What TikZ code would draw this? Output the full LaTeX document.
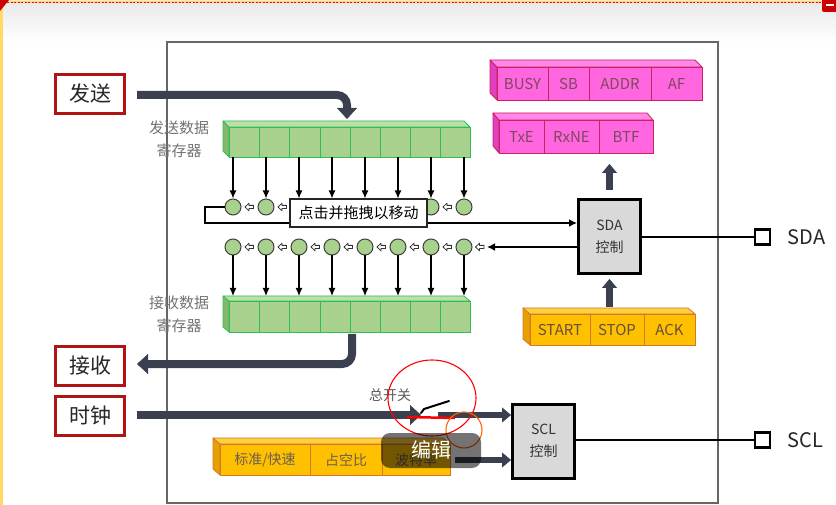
\documentclass[tikz,border=0pt]{standalone}
\usepackage{fontspec}
\setmainfont{Noto Sans CJK SC}
\usetikzlibrary{arrows.meta,calc}
\definecolor{navy}{HTML}{3A4050}
\definecolor{grfront}{HTML}{A9D18E}
\definecolor{grside}{HTML}{86B86A}
\definecolor{grtop}{HTML}{BEE0A8}
\definecolor{gredge}{HTML}{30BE58}
\definecolor{orfront}{HTML}{FFC000}
\definecolor{orside}{HTML}{E6A000}
\definecolor{ortop}{HTML}{FFD040}
\definecolor{oredge}{HTML}{D4762C}
\definecolor{pkfront}{HTML}{FF66E0}
\definecolor{pkside}{HTML}{E040C0}
\definecolor{pktop}{HTML}{FF88EA}
\definecolor{pkedge}{HTML}{CC2060}
\definecolor{boxred}{HTML}{B01515}
\definecolor{ctlgray}{HTML}{D9D9D9}
\definecolor{framegray}{HTML}{666666}
\definecolor{topyellow}{HTML}{FFD966}
\newcommand\boxbar[8]{%
  \filldraw[#2side, draw=#2edge, line width=0.8pt, line join=round] (#3,#6) -- (#4,#7) -- (#4,#8) -- (#3,{#8-#7+#6}) -- cycle;
  \filldraw[#2top, draw=#2edge, line width=0.8pt, line join=round] (#3,#6) -- ({#5-#4+#3},#6) -- (#5,#7) -- (#4,#7) -- cycle;
  \node[draw=#2edge, fill=#2front, line width=0.8pt, inner sep=0pt, outer sep=0pt, anchor=north west, minimum width={#5-#4}, minimum height={#8-#7}] (#1) at (#4,#7) {};
}
\tikzset{
  lbox/.style={draw=boxred, line width=3pt, fill=white, minimum width=69pt, minimum height=39pt, inner sep=0pt, font=\fontsize{21}{24}\selectfont, text=black!85},
  bigarrow/.style={draw=navy, line width=8pt, -{Triangle[width=20pt,length=11pt,line width=0.4pt]}},
  midarrow/.style={draw=navy, line width=6.5pt, -{Triangle[width=15pt,length=9pt,line width=0.4pt]}},
  thinarr/.style={draw=black, line width=1.2pt, -{Latex[width=7pt,length=8pt]}},
  medarr/.style={draw=black, line width=2pt, -{Latex[width=8pt,length=8pt]}},
  circ/.style={circle, draw=black!75, line width=1pt, fill=grfront, minimum size=16pt, inner sep=0pt},
  ctl/.style={draw=black, line width=3pt, fill=ctlgray, minimum width=62pt, minimum height=74pt, inner sep=0pt, align=center, font=\fontsize{14}{22}\selectfont, text=black!80},
  pin/.style={draw=black, line width=2.5pt, fill=white, minimum size=15pt, inner sep=0pt},
  pinlabel/.style={anchor=west, font=\fontsize{20}{24}\selectfont, text=black!85},
  reglabel/.style={align=center, font=\fontsize{15}{23}\selectfont, text=black!55},
  pklabel/.style={font=\fontsize{15}{18}\selectfont, text=pkedge!40!black!75},
  orlabel/.style={font=\fontsize{15}{18}\selectfont, text=oredge!30!black!80},
  orlabelcn/.style={font=\fontsize{14}{18}\selectfont, text=oredge!20!black!70},
  harr/.pic={\draw[line width=0.8pt, draw=black!80, fill=white, line join=round] (-4.5,0) -- (-0.5,-3.8) -- (-0.5,-1.6) -- (4,-1.6) -- (4,1.6) -- (-0.5,1.6) -- (-0.5,3.8) -- cycle;}
}
\begin{document}
\begin{tikzpicture}[x=1pt,y=-1pt]
\useasboundingbox (0,0) rectangle (836,505);
\fill[white] (0,0) rectangle (836,505);
\shade[top color=black!9, bottom color=white] (0,0) rectangle (836,42);
\fill[topyellow] (0,0) rectangle (3,505);
\draw[topyellow, line width=2pt] (0,2) -- (836,2);
\draw[red, line width=0.8pt, dash pattern=on 2pt off 1.5pt] (0,2) -- (836,2);
\fill[red!80!black] (0,0) -- (9,0) -- (0,11) -- cycle;
\fill[red!80!black, rounded corners=2pt] (822,-3) rectangle (839,12);
\draw[white, line width=1.5pt] (826,5) -- (834,5);
% frame
\draw[framegray, line width=2pt] (167,42) rectangle (718,503);
% side boxes
\node[lbox] (send) at (90,94) {发送};
\node[lbox] (recv) at (90,365.5) {接收};
\node[lbox] (clk) at (90,415.5) {时钟};
% registers
\boxbar{txreg}{gr}{223}{229}{470}{121}{127}{157}
\foreach \d in {259,289,320,350,380,410,440} \draw[gredge, line width=0.8pt] (\d,127) -- (\d,157);
\boxbar{rxreg}{gr}{223}{229}{470}{296}{301}{332}
\foreach \d in {259,289,320,350,380,410,440} \draw[gredge, line width=0.8pt] (\d,301) -- (\d,332);
\node[reglabel] (txlab) at (179,139) {发送数据\\寄存器};
\node[reglabel] (rxlab) at (179,314) {接收数据\\寄存器};
% pink flags
\boxbar{pk1}{pk}{490}{497}{702}{60}{67}{100}
\foreach \d in {548,589,651} \draw[pkedge, line width=0.8pt] (\d,67) -- (\d,100);
\node[pklabel] (busy) at (522.5,84) {BUSY};
\node[pklabel] (sb) at (568.5,84) {SB};
\node[pklabel] (addr) at (620,84) {ADDR};
\node[pklabel] (af) at (676.5,84) {AF};
\boxbar{pk2}{pk}{493}{499}{653}{113}{120}{153}
\foreach \d in {544,599} \draw[pkedge, line width=0.8pt] (\d,120) -- (\d,153);
\node[pklabel] (txe) at (521.5,137) {TxE};
\node[pklabel] (rxne) at (571.5,137) {RxNE};
\node[pklabel] (btf) at (626,137) {BTF};
% start stop ack
\boxbar{ssa}{or}{523}{530}{695}{308}{314}{345}
\foreach \d in {590,644} \draw[oredge, line width=0.8pt] (\d,314) -- (\d,345);
\node[orlabel] (start) at (560,330) {START};
\node[orlabel] (stop) at (617,330) {STOP};
\node[orlabel] (ack) at (669.5,330) {ACK};
% clock config
\boxbar{clkcfg}{or}{213}{220}{450}{438}{444}{475}
\foreach \d in {310,382} \draw[oredge, line width=0.8pt] (\d,444) -- (\d,475);
\node[orlabelcn] (std) at (265,460) {标准/快速};
\node[orlabelcn] (duty) at (346,460) {占空比};
\node[orlabelcn] (baud) at (416,460) {波特率};
% control boxes
\node[ctl] (sda) at (609.5,236.5) {SDA\\控制};
\node[ctl] (scl) at (543.5,441) {SCL\\控制};
\node[pin] (sdapin) at (762.5,237) {};
\node[pin] (sclpin) at (762.5,440) {};
\node[pinlabel] (sdalab) at (784,237) {SDA};
\node[pinlabel] (scllab) at (784,440) {SCL};
\draw[black, line width=2pt] (sda.east |- sdapin.west) -- (sdapin.west);
\draw[black, line width=2pt] (scl.east |- sclpin.west) -- (sclpin.west);
% circles
\foreach \i in {1,...,8} {
  \node[circ] (t\i) at ({233+33*(\i-1)},207) {};
  \node[circ] (r\i) at ({233+33*(\i-1)},247) {};
  \draw[thinarr] (t\i.north |- txreg.south) -- (t\i.north);
  \draw[thinarr] (r\i.south) -- (r\i.south |- 0,296);
}
\foreach \i in {1,...,7} {
  \pic at ({249.5+33*(\i-1)},207) {harr};
  \pic at ({249.5+33*(\i-1)},247) {harr};
}
\pic at (480,247) {harr};
% loop and sda links
\coordinate (loopa) at (205,207);
\coordinate (loopb) at (205,223);
\draw[medarr] (t1.west) -- (loopa) -- (loopb) -- (sda.west |- loopb);
\coordinate (rxin) at (487,247);
\draw[medarr] (sda.west |- rxin) -- (rxin);
% thick arrows
\coordinate (sendA) at (137,95);
\coordinate (sendB) at (347,95);
\coordinate (sendC) at (347,119);
\draw[bigarrow, rounded corners=10pt] (sendA) -- (sendB) -- (sendC);
\coordinate (recvA) at (352,334);
\coordinate (recvB) at (352,364);
\coordinate (recvC) at (137,364);
\draw[bigarrow, rounded corners=10pt] (recvA) -- (recvB) -- (recvC);
\coordinate (clkA) at (137,415);
\coordinate (clkB) at (421,415);
\draw[bigarrow] (clkA) -- (clkB);
\coordinate (swA) at (438,415);
\draw[midarrow] (swA) -- (scl.west |- swA);
\coordinate (cfgA) at (455,460);
\draw[midarrow] (cfgA) -- (scl.west |- cfgA);
\draw[midarrow] ([yshift=8pt]sda.north) -- (sda.north |- 0,164);
\draw[midarrow] (sda.south |- 0,307) -- ([yshift=-4pt]sda.south);
% switch
\node[font=\fontsize{14}{16}\selectfont, text=black!65] (swlab) at (390,395) {总开关};
\draw[black, line width=2pt, line cap=round] (421,413) -- (424,409) -- (449,401);
% annotations
\draw[red, line width=2.5pt] (407,417) -- (455,418);
\draw[red, line width=1.1pt] (432,398) ellipse [x radius=44, y radius=38];
\draw[orange!80!red, line width=1.1pt] (464,430) circle [radius=18];
% tooltip
\node[draw=black!85, line width=1.5pt, fill=white, minimum width=137pt, minimum height=28pt, inner sep=0pt, font=\fontsize{15}{18}\selectfont] (tip) at (358.5,213) {点击并拖拽以移动};
% edit overlay
\fill[black, opacity=0.55, rounded corners=9pt] (381,433) rectangle (481,468);
\node[text=white, font=\fontsize{20}{24}\selectfont] (edit) at (431,450) {编辑};
\end{tikzpicture}
\end{document}
